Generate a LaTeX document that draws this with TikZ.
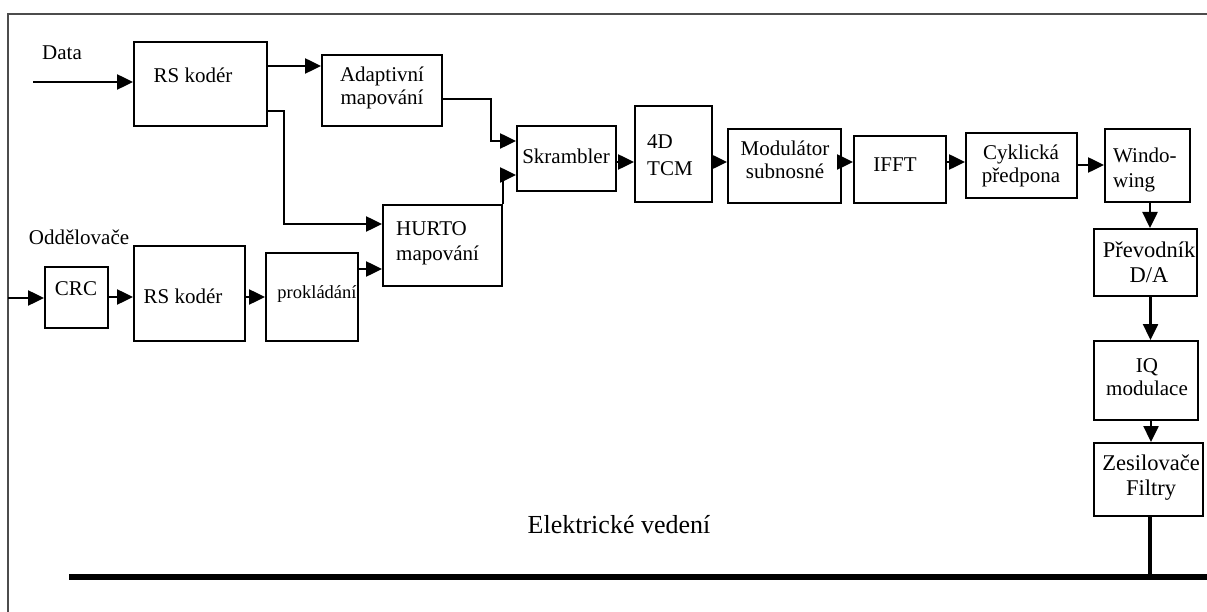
\documentclass[tikz,border=0pt]{standalone}
\usepackage{fontspec}
\setmainfont{Liberation Serif}
\usetikzlibrary{arrows.meta,calc}
\begin{document}
\begin{tikzpicture}[x=1pt,y=-1pt,
  blk/.style 2 args={draw, line width=2pt, inner sep=0pt, minimum width=#1pt, minimum height=#2pt},
  lbl/.style={inner sep=0pt, align=center, font=\fontsize{21}{23}\selectfont},
  conn/.style={line width=2.5pt, -{Triangle[length=16pt 0,width=15pt 0]}},
  frame/.style={draw=black!70, line width=1.2pt}]
\useasboundingbox (0,0) rectangle (1207,612);

% outer frame (open to the right and bottom)
\coordinate (fTR) at (1207,14);
\coordinate (fTL) at (8,14);
\coordinate (fBL) at (8,612);
\draw[frame] (fTR) -- (fTL) -- (fBL);

% ---- blocks ----
\node[blk={133}{84}]  (rsA)   at (200.5,84)   {};
\node[blk={120}{71}]  (adapt) at (382,90.5)   {};
\node[blk={99}{65}]   (skr)   at (566.5,158.5) {};
\node[blk={77}{96}]   (tcm)   at (673.5,154)  {};
\node[blk={113}{74}]  (mod)   at (784.5,166)  {};
\node[blk={92}{67}]   (ifft)  at (900,169.5)  {};
\node[blk={111}{65}]  (cyk)   at (1021.5,165.5) {};
\node[blk={85}{73}]   (win)   at (1147.5,165.5) {};
\node[blk={103}{67}]  (prev)  at (1145.5,262.5) {};
\node[blk={104}{79}]  (iq)    at (1146,380.5) {};
\node[blk={109}{73}]  (zes)   at (1148.5,479.5) {};
\node[blk={119}{81}]  (hurto) at (442.5,245.5) {};
\node[blk={63}{61}]   (crc)   at (76.5,297.5) {};
\node[blk={111}{95}]  (rsB)   at (189.5,293.5) {};
\node[blk={92}{88}]   (prok)  at (312,297)    {};

% ---- block texts ----
\node[lbl] (rsAt)   at (193,75)   {RS kodér};
\node[lbl] (adaptt) at (382,88)   {Adaptivní\\mapování};
\node[lbl] (skrt)   at (566,156)  {Skrambler};
\node[lbl, align=left, anchor=west, font=\fontsize{21}{27}\selectfont] (tcmt) at (647,155) {4D\\TCM};
\node[lbl] (modt)   at (785,160)  {Modulátor\\subnosné};
\node[lbl] (ifftt)  at (895,165)  {IFFT};
\node[lbl] (cykt)   at (1021,166) {Cyklická\\předpona};
\node[lbl, align=left, anchor=west, font=\fontsize{21}{25}\selectfont] (wint) at (1113,170) {Windo-\\wing};
\node[lbl, font=\fontsize{22.5}{25}\selectfont] (prevt) at (1149,262) {Převodník\\D/A};
\node[lbl] (iqt)    at (1147,377) {IQ\\modulace};
\node[lbl, font=\fontsize{22.5}{25}\selectfont] (zest) at (1151,478) {Zesilovače\\Filtry};
\node[lbl, align=left, anchor=west, font=\fontsize{21}{25}\selectfont] (hurtot) at (396,243) {HURTO\\mapování};
\node[lbl] (crct)   at (76,289)   {CRC};
\node[lbl] (rsBt)   at (183,296)  {RS kodér};
\node[lbl, font=\fontsize{18.5}{21}\selectfont] (prokt) at (317,294) {prokládání};

% ---- free labels ----
\node[lbl] (datat) at (62,53)  {Data};
\node[lbl] (sept)  at (79,237) {Oddělovače};
\node[lbl, font=\fontsize{26}{30}\selectfont] (linet) at (619,525) {Elektrické vedení};

% ---- connectors ----
\coordinate (datain) at (33,82);
\draw[conn] (datain) -- (datain -| rsA.west);

\coordinate (a1) at ($(rsA.north east)+(0,25)$);
\draw[conn] (a1) -- (a1 -| adapt.west);

\coordinate (a2) at ($(rsA.north east)+(0,70)$);
\coordinate (a2t) at ($(hurto.north west)+(0,20)$);
\draw[conn] (a2) -| ($(a2t)+(-98,0)$) -- (a2t);

\coordinate (a3) at ($(adapt.north east)+(0,45)$);
\coordinate (a3t) at ($(skr.north west)+(0,16)$);
\draw[conn] (a3) -| ($(a3t)+(-25,0)$) -- (a3t);

\coordinate (a4t) at ($(skr.north west)+(0,50)$);
\draw[conn] (hurto.north east) |- (a4t);

\coordinate (a5) at ($(skr.north east)+(0,37)$);
\draw[conn] (a5) -- (a5 -| tcm.west);
\coordinate (a6) at ($(tcm.north east)+(0,57)$);
\draw[conn] (a6) -- (a6 -| mod.west);
\coordinate (a7) at ($(mod.north east)+(0,34)$);
\draw[conn] (a7) -- (a7 -| ifft.west);
\coordinate (a8) at ($(ifft.north east)+(0,27)$);
\draw[conn] (a8) -- (a8 -| cyk.west);
\coordinate (a9) at ($(cyk.north east)+(0,33)$);
\draw[conn] (a9) -- (a9 -| win.west);

\coordinate (b1) at ($(win.south)+(2.5,0)$);
\draw[conn] (b1) -- (b1 |- prev.north);
\coordinate (b2) at ($(prev.south)+(5,0)$);
\draw[conn] (b2) -- (b2 |- iq.north);
\coordinate (b3) at ($(iq.south)+(5,0)$);
\draw[conn] (b3) -- (b3 |- zes.north);

\coordinate (sepin) at (8,298);
\draw[conn] (sepin) -- (sepin -| crc.west);
\coordinate (c1) at ($(crc.north east)+(0,31)$);
\draw[conn] (c1) -- (c1 -| rsB.west);
\coordinate (c2) at ($(rsB.north east)+(0,52)$);
\draw[conn] (c2) -- (c2 -| prok.west);
\coordinate (c3) at ($(prok.north east)+(0,17)$);
\draw[conn] (c3) -- (c3 -| hurto.west);

% ---- power line ----
\coordinate (busL) at (69,577);
\coordinate (busR) at (1207,577);
\draw[line width=5.5pt] (busL) -- (busR);
\coordinate (zesdrop) at ($(zes.south)+(1.5,0)$);
\draw[line width=4pt] (zesdrop) -- (zesdrop |- busL);
\end{tikzpicture}
\end{document}
